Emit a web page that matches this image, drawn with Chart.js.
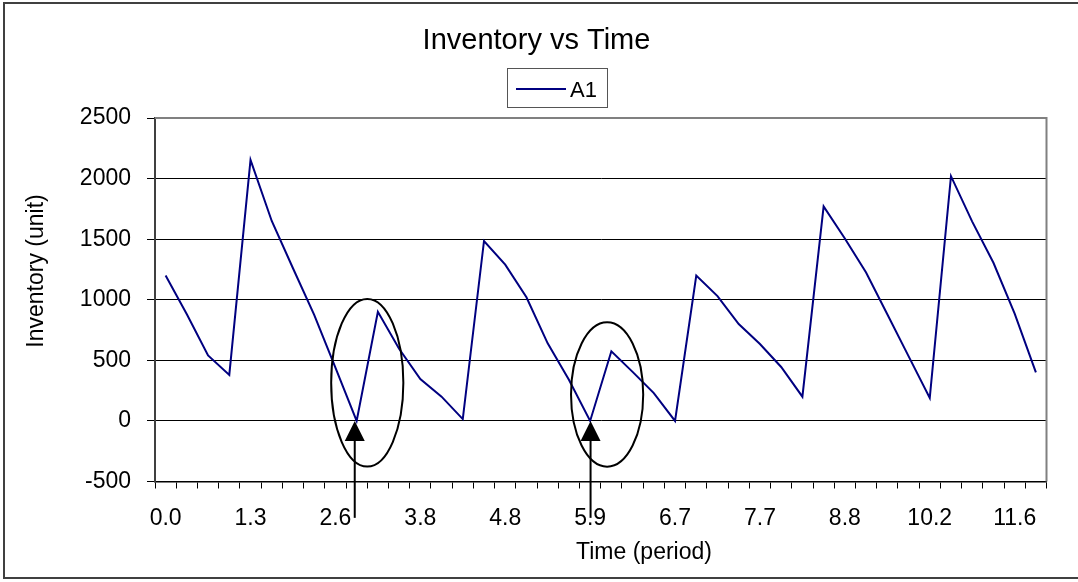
<!DOCTYPE html>
<html>
<head>
<meta charset="utf-8">
<title>Inventory vs Time</title>
<script src="https://cdn.jsdelivr.net/npm/chart.js@4.4.1/dist/chart.umd.min.js"></script>
<style>
  body { margin: 0; background: #fff; }
  canvas { display: block; }
</style>
</head>
<body>
<canvas id="chart" width="1078" height="582"></canvas>
<script>
// tick labels shown on the time axis (one every 4 periods)
var periodTicks = ['0.0', '1.3', '2.6', '3.8', '4.8', '5.9', '6.7', '7.7', '8.8', '10.2', '11.6'];
var tickEvery = 4;

// inventory level of A1 per period
var inventoryA1 = [
    1200, 880, 540, 380, 2155, 1650, 1260, 875, 440, 0,
    900, 595, 345, 200, 15, 1485, 1290, 1020, 640, 340,
    0, 575, 405, 230, 0, 1200, 1030, 800, 635, 445,
    200, 1770, 1505, 1225, 880, 535, 190, 2020, 1645, 1305,
    885, 400
];

var yTicks = [-500, 0, 500, 1000, 1500, 2000, 2500];

// circled stock-outs: centre (period index, units), radii, arrow position
var calloutX = [9.5, 20.8];
var calloutY = [315, 218];
var calloutRx = [1.7, 1.7];
var calloutRy = [692, 596];
var arrowX = [8.91, 20.02];
var arrowTail = -800;

var labels = inventoryA1.map(function (v, i) {
    return i % tickEvery === 0 ? periodTicks[i / tickEvery] : '';
});

var FONT = "'Liberation Sans', Arial, sans-serif";

var extras = {
    id: 'extras',
    beforeDraw: function (chart) {
        var ctx = chart.ctx;
        ctx.save();
        ctx.fillStyle = '#fff';
        ctx.fillRect(0, 0, chart.width, chart.height);
        ctx.restore();
    },
    beforeDatasetsDraw: function (chart) {
        var ctx = chart.ctx, a = chart.chartArea;
        ctx.save();
        ctx.strokeStyle = '#808080';
        ctx.lineWidth = 2;
        ctx.beginPath();
        ctx.moveTo(a.left, a.top);
        ctx.lineTo(a.right, a.top);
        ctx.lineTo(a.right, a.bottom);
        ctx.stroke();
        ctx.restore();
    },
    afterDraw: function (chart) {
        var ctx = chart.ctx;
        var xs = chart.scales.x, ys = chart.scales.y;
        ctx.save();

        // ellipses and arrows
        ctx.strokeStyle = '#000';
        ctx.fillStyle = '#000';
        ctx.lineWidth = 2;
        for (var i = 0; i < calloutX.length; i++) {
            var cx = xs.getPixelForValue(calloutX[i]);
            var cy = ys.getPixelForValue(calloutY[i]);
            var rx = xs.getPixelForValue(calloutX[i] + calloutRx[i]) - cx;
            var ry = ys.getPixelForValue(calloutY[i] - calloutRy[i]) - cy;
            ctx.beginPath();
            ctx.ellipse(cx, cy, rx, ry, 0, 0, Math.PI * 2);
            ctx.stroke();

            var ax = xs.getPixelForValue(arrowX[i]);
            var tip = ys.getPixelForValue(0);
            var tail = ys.getPixelForValue(arrowTail);
            ctx.beginPath();
            ctx.moveTo(ax, tail);
            ctx.lineTo(ax, tip + 15);
            ctx.stroke();
            ctx.beginPath();
            ctx.moveTo(ax, tip);
            ctx.lineTo(ax - 10, tip + 20);
            ctx.lineTo(ax + 10, tip + 20);
            ctx.closePath();
            ctx.fill();
        }

        // legend box
        var ds = chart.data.datasets[0];
        ctx.strokeStyle = '#555';
        ctx.lineWidth = 1;
        ctx.strokeRect(507.5, 68.5, 100, 39);
        ctx.strokeStyle = ds.borderColor;
        ctx.lineWidth = 2;
        ctx.beginPath();
        ctx.moveTo(516, 89);
        ctx.lineTo(566, 89);
        ctx.stroke();
        ctx.fillStyle = '#000';
        ctx.font = '22px ' + FONT;
        ctx.textBaseline = 'alphabetic';
        ctx.textAlign = 'left';
        ctx.fillText(ds.label, 570, 97);

        // axis titles
        ctx.font = '23px ' + FONT;
        ctx.textAlign = 'center';
        ctx.textBaseline = 'middle';
        ctx.fillText('Time (period)', 644, 553);
        ctx.translate(37, 271);
        ctx.rotate(-Math.PI / 2);
        ctx.fillText('Inventory (unit)', 0, 0);
        ctx.setTransform(1, 0, 0, 1, 0, 0);

        // outer frame
        ctx.strokeStyle = '#404040';
        ctx.lineWidth = 2;
        ctx.strokeRect(4, 3, 1090, 575);
        ctx.restore();
    }
};

new Chart(document.getElementById('chart'), {
    type: 'line',
    data: {
        labels: labels,
        datasets: [{
            label: 'A1',
            data: inventoryA1,
            borderColor: '#000080',
            backgroundColor: '#000080',
            borderWidth: 2,
            pointRadius: 0,
            tension: 0,
            fill: false
        }]
    },
    options: {
        responsive: false,
        animation: false,
        devicePixelRatio: 1,
        layout: { padding: { left: 26.5, right: 31.5, top: 0, bottom: 0 } },
        plugins: {
            legend: { display: false },
            tooltip: { enabled: false },
            title: {
                display: true,
                text: 'Inventory vs Time',
                color: '#000',
                font: { family: FONT, size: 29, weight: 'normal' },
                padding: { top: 23.1, bottom: 60.1 }
            }
        },
        scales: {
            x: {
                offset: true,
                grid: { offset: true, drawOnChartArea: false, drawTicks: true, tickLength: 7, color: '#000' },
                border: { display: true, color: '#000', width: 1.5 },
                ticks: {
                    autoSkip: false, maxRotation: 0, minRotation: 0, padding: 16,
                    color: '#000', font: { family: FONT, size: 23 }
                },
                afterFit: function (s) { s.height = 100.5; }
            },
            y: {
                min: yTicks[0],
                max: yTicks[yTicks.length - 1],
                afterBuildTicks: function (s) {
                    s.ticks = yTicks.map(function (v) { return { value: v }; });
                },
                grid: { color: '#000', lineWidth: 1, tickLength: 8 },
                border: { display: true, color: '#404040', width: 2 },
                ticks: {
                    padding: 16, color: '#000', font: { family: FONT, size: 23 },
                    callback: function (v) { return String(v); }
                },
                afterFit: function (s) { s.width = 128.5; }
            }
        }
    },
    plugins: [extras]
});
</script>
</body>
</html>
